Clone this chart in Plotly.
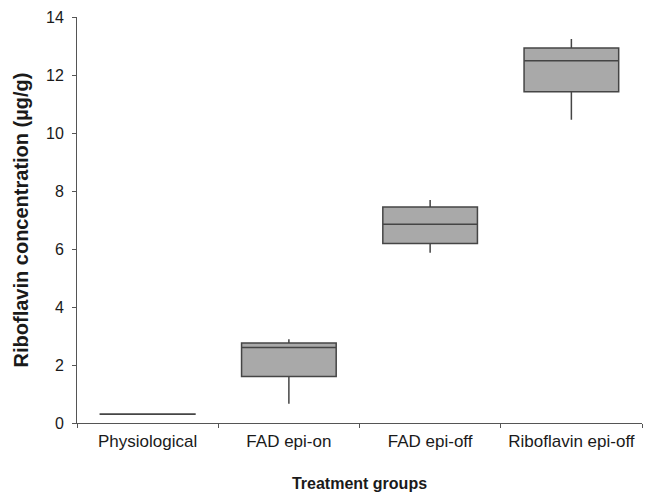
import plotly.graph_objects as go

categories = ["Physiological", "FAD epi-on", "FAD epi-off", "Riboflavin epi-off"]
lower_whisker = [0.30, 0.66, 5.87, 10.46]
q1_values = [0.30, 1.60, 6.19, 11.42]
median_values = [0.31, 2.60, 6.85, 12.49]
q3_values = [0.31, 2.76, 7.45, 12.93]
upper_whisker = [0.31, 2.89, 7.69, 13.24]
y_ticks = [0, 2, 4, 6, 8, 10, 12, 14]

fig = go.Figure()
fig.add_trace(go.Box(
    x=categories,
    q1=q1_values,
    median=median_values,
    q3=q3_values,
    lowerfence=lower_whisker,
    upperfence=upper_whisker,
    fillcolor="#a9a9a9",
    line=dict(color="#454545", width=1.5),
    width=0.67,
    whiskerwidth=0,
    boxpoints=False,
    showlegend=False,
    hoverinfo="skip",
))

font_family = "Liberation Sans, Arial, sans-serif"
fig.update_layout(
    width=647, height=495,
    margin=dict(l=77, r=5, t=17, b=70),
    plot_bgcolor="white", paper_bgcolor="white",
    font=dict(family=font_family, size=17, color="#1a1a1a"),
    xaxis=dict(
        type="category",
        categoryorder="array", categoryarray=categories,
        range=[-0.5, 3.5],
        tickson="boundaries",
        ticks="outside", ticklen=4, tickcolor="#555555",
        showline=True, linecolor="#555555", linewidth=1,
        showgrid=False, zeroline=False,
        tickfont=dict(size=17),
        ticklabelstandoff=3,
        title=dict(text="<b>Treatment groups</b>", font=dict(size=16), standoff=27),
    ),
    yaxis=dict(
        range=[0, 14],
        tickvals=y_ticks,
        ticks="outside", ticklen=4, tickcolor="#555555",
        showline=True, linecolor="#555555", linewidth=1,
        showgrid=False, zeroline=False,
        tickfont=dict(size=16),
        ticklabelstandoff=5,
        title=dict(text="<b>Riboflavin concentration (µg/g)</b>", font=dict(size=20), standoff=12),
    ),
)

fig.write_html("out.html", config={"displayModeBar": False},
               post_script="document.body.style.margin='0';")
